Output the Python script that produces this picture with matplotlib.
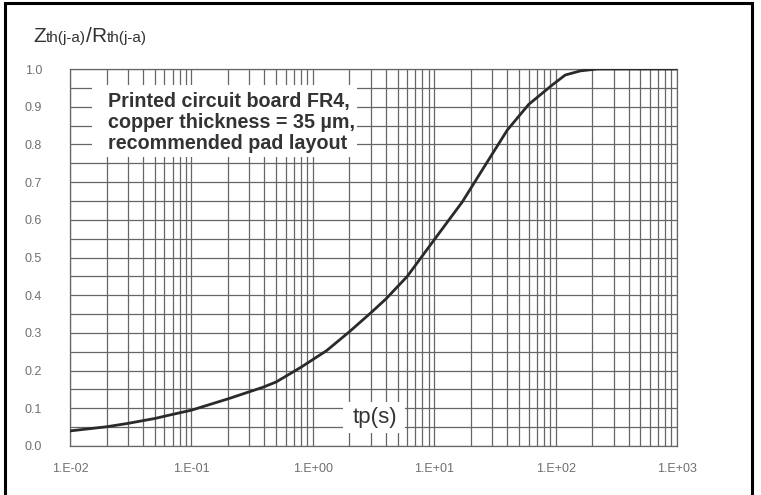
import matplotlib.pyplot as plt
import matplotlib.patches as mpatches
from matplotlib.ticker import LogLocator, MultipleLocator, FixedLocator, NullFormatter

# pulse duration (s) and normalised thermal impedance
tp = [0.01, 0.02, 0.03, 0.05, 0.066, 0.1, 0.2, 0.39, 0.5, 0.8, 1.3, 2.0, 3.0, 4.0, 6.0, 10,
      17, 30, 40, 60, 95, 120, 160, 220, 1000]
zth = [0.04, 0.051, 0.06, 0.073, 0.082, 0.095, 0.125, 0.156, 0.17, 0.209, 0.253, 0.303, 0.353,
       0.39, 0.45, 0.547, 0.647, 0.774, 0.838, 0.906, 0.959, 0.984, 0.995, 1.0, 1.0]

x_ticks = [1e-2, 1e-1, 1e0, 1e1, 1e2, 1e3]
x_labels = ['1.E-02', '1.E-01', '1.E+00', '1.E+01', '1.E+02', '1.E+03']
y_ticks = [0.0, 0.1, 0.2, 0.3, 0.4, 0.5, 0.6, 0.7, 0.8, 0.9, 1.0]
y_labels = ['%.1f' % v for v in y_ticks]

note = 'Printed circuit board FR4,\ncopper thickness = 35 \u00b5m,\nrecommended pad layout'

W, H = 761, 495
fig = plt.figure(figsize=(W / 100, H / 100), dpi=100)
ax = fig.add_axes([70 / W, 1 - 446 / H, (677 - 70) / W, (446 - 69) / H])

grid_c = '#666666'
ax.set_xscale('log')
ax.set_xlim(1e-2, 1e3)
ax.set_ylim(0, 1.0)
ax.xaxis.set_major_locator(FixedLocator(x_ticks))
ax.xaxis.set_minor_locator(LogLocator(base=10, subs=range(2, 10), numticks=20))
ax.xaxis.set_minor_formatter(NullFormatter())
ax.set_xticklabels(x_labels)
ax.yaxis.set_major_locator(FixedLocator(y_ticks))
ax.yaxis.set_minor_locator(MultipleLocator(0.05))
ax.set_yticklabels(y_labels)
ax.grid(True, which='both', color=grid_c, lw=0.9)
ax.tick_params(which='both', length=0, colors='#707070', labelsize=9)
ax.tick_params(axis='x', pad=12)
ax.tick_params(axis='y', pad=20)
for lab in ax.get_xticklabels() + ax.get_yticklabels():
    lab.set_family('Liberation Sans')
for s in ax.spines.values():
    s.set_color(grid_c)
    s.set_linewidth(0.9)

ax.plot(tp, zth, color='#2a2a2a', lw=2.0, zorder=3)

# white panels knocking out the grid behind the annotations
fig.patches.append(mpatches.Rectangle((92 / W, 1 - 157 / H), 265 / W, 72 / H,
                                      transform=fig.transFigure, facecolor='white',
                                      edgecolor='none', zorder=2))
fig.patches.append(mpatches.Rectangle((343 / W, 1 - 433 / H), 62 / W, 31 / H,
                                      transform=fig.transFigure, facecolor='white',
                                      edgecolor='none', zorder=2))

fig.text(108 / W, 1 - 92 / H, note, fontsize=14.2, fontweight='bold', color='#333333',
         family='Liberation Sans', va='top', ha='left', linespacing=1.12, zorder=5)
fig.text(375 / W, 1 - 418 / H, 'tp(s)', fontsize=16, color='#333333',
         family='Liberation Sans', ha='center', va='center', zorder=5)

# axis title built from big letters and small suffixes
renderer = fig.canvas.get_renderer()
x0 = 33
parts = [('Z', 15), ('th(j-a)', 11), ('/', 15), ('R', 15), ('th(j-a)', 11)]
for s, fs in parts:
    t = fig.text(x0 / W, 1 - 42 / H, s, fontsize=fs, color='#333333',
                 family='Liberation Sans', ha='left', va='baseline')
    bb = t.get_window_extent(renderer)
    x0 += bb.width

# outer frame
fig.patches.append(mpatches.Rectangle((5 / W, -0.05), 747 / W, 1.05 - 3 / H,
                                      transform=fig.transFigure, fill=False,
                                      edgecolor='black', lw=2.2))

fig.savefig('out.png', dpi=100)
